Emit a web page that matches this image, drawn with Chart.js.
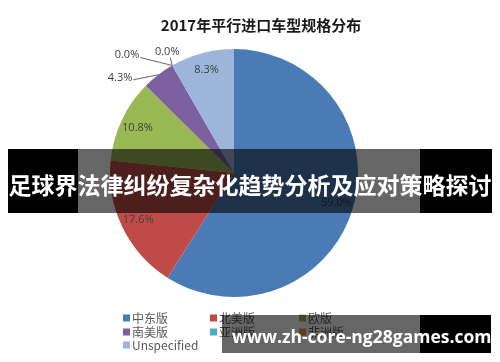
<!DOCTYPE html>
<html>
<head>
<meta charset="utf-8">
<script src="https://cdn.jsdelivr.net/npm/chart.js@4/dist/chart.umd.min.js"></script>
<style>
  html, body { margin: 0; padding: 0; background: #fff; }
  #wrap { position: relative; width: 500px; height: 362px; overflow: hidden; }
  #chart { position: absolute; left: 0; top: 0; }
  .band { position: absolute; }
  .txt { position: absolute; color: #fff; font-weight: bold; white-space: nowrap; }
</style>
</head>
<body>
<div id="wrap">
  <canvas id="chart" width="500" height="362"></canvas>

  <!-- banner over the middle of the chart -->
  <div class="band" style="left:8px;top:149px;width:70px;height:64px;background:#000"></div>
  <div class="band" style="left:78px;top:149px;width:342px;height:64px;background:rgba(0,0,0,0.6)"></div>
  <div class="band" style="left:420px;top:149px;width:72px;height:64px;background:#000"></div>
  <div class="txt" id="banner" style="left:8px;top:167px;width:484px;text-align:center;font:bold 23px 'Noto Sans CJK SC'">足球界法律纠纷复杂化趋势分析及应对策略探讨</div>

  <!-- watermark at the bottom -->
  <div class="band" style="left:222px;top:315px;width:198px;height:38px;background:rgba(0,0,0,0.6)"></div>
  <div class="band" style="left:420px;top:315px;width:71px;height:38px;background:#000"></div>
  <div class="txt" style="left:232px;top:324px;width:248px;text-align:center;font:bold 17.5px 'Open Sans'">www.zh-core-ng28games.com</div>
</div>

<script>
const titleText = '2017年平行进口车型规格分布';
const regions = ['中东版', '北美版', '欧版', '南美版', '亚洲版', '非洲版', 'Unspecified'];
const shares = [59.0, 17.6, 10.8, 4.3, 0.0, 0.0, 8.3];
const colors = ['#4A7BB7', '#BE4B48', '#98B954', '#7D60A0', '#4BACC6', '#F79646', '#9DB5DA'];

// small slices get their label pulled outside with a leader line
// (offsets in px from the slice's outer edge point)
const callouts = {
  3: { dx: -26, dy: 3, lx: -25, ly: 5 },
  4: { dx: -33, dy: -11, lx: -32, ly: -8 },
  5: { dx: -5, dy: -14, lx: -2, ly: -8 }
};

const labelFont = "11px 'Open Sans'";
const legendFont = "12px 'Noto Sans CJK SC'";

const decorPlugin = {
  id: 'decor',
  afterDraw(chart) {
    const ctx = chart.ctx;
    const meta = chart.getDatasetMeta(0);

    // title
    ctx.save();
    ctx.fillStyle = '#1a1a1a';
    ctx.font = "bold 15px 'Noto Sans CJK SC'";
    ctx.textAlign = 'center';
    ctx.textBaseline = 'middle';
    ctx.fillText(titleText, 261, 25);
    ctx.restore();

    // value labels
    ctx.save();
    ctx.font = labelFont;
    ctx.fillStyle = '#404040';
    ctx.strokeStyle = '#404040';
    ctx.lineWidth = 0.8;
    ctx.textBaseline = 'middle';
    meta.data.forEach((arc, i) => {
      const p = arc.getProps(['x', 'y', 'startAngle', 'endAngle', 'outerRadius'], true);
      const mid = (p.startAngle + p.endAngle) / 2;
      const txt = shares[i].toFixed(1) + '%';
      const c = callouts[i];
      if (!c) {
        const r = p.outerRadius * 0.86;
        ctx.textAlign = 'center';
        ctx.fillText(txt, p.x + Math.cos(mid) * r, p.y + Math.sin(mid) * r);
        return;
      }
      const ex = p.x + Math.cos(mid) * p.outerRadius;
      const ey = p.y + Math.sin(mid) * p.outerRadius;
      ctx.beginPath();
      ctx.moveTo(ex, ey);
      ctx.lineTo(ex + c.lx, ey + c.ly);
      ctx.stroke();
      ctx.textAlign = c.dx < -10 ? 'right' : 'center';
      ctx.fillText(txt, ex + c.dx, ey + c.dy);
    });
    ctx.restore();

    // legend, three columns
    ctx.save();
    ctx.font = legendFont;
    ctx.textBaseline = 'middle';
    ctx.textAlign = 'left';
    const colX = [123, 210, 299];
    const rowY = [318, 332, 345];
    regions.forEach((name, i) => {
      const x = colX[i % 3];
      const y = rowY[Math.floor(i / 3)];
      ctx.fillStyle = colors[i];
      ctx.fillRect(x, y - 3.5, 7, 7);
      ctx.fillStyle = '#595959';
      ctx.fillText(name, x + 9, y + 0.5);
    });
    ctx.restore();
  }
};

new Chart(document.getElementById('chart'), {
  type: 'pie',
  data: {
    labels: regions,
    datasets: [{
      data: shares,
      backgroundColor: colors,
      borderWidth: 0
    }]
  },
  options: {
    responsive: false,
    animation: false,
    layout: { padding: { left: 110, right: 142, top: 49, bottom: 65 } },
    plugins: {
      legend: { display: false },
      title: { display: false },
      tooltip: { enabled: false }
    }
  },
  plugins: [decorPlugin]
});
</script>
</body>
</html>
